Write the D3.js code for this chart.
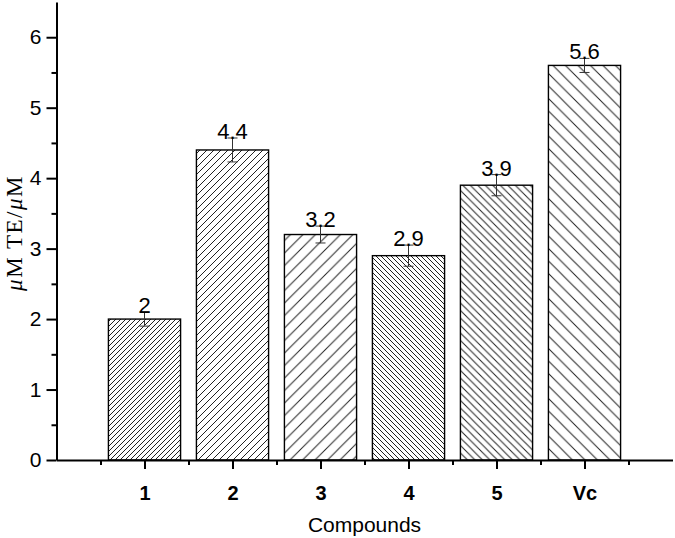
<!DOCTYPE html>
<html>
<head>
<meta charset="utf-8">
<style>
  body { margin: 0; background: #fff; }
  text { font-family: "Liberation Sans", Arial, sans-serif; fill: #000; }
</style>
</head>
<body>
<script src="https://cdn.jsdelivr.net/npm/d3@7"></script>
<script>
var categories = ["1", "2", "3", "4", "5", "Vc"];
var values = [2, 4.4, 3.2, 2.9, 3.9, 5.6];
var errors = [0.1, 0.17, 0.12, 0.15, 0.15, 0.1];
var yTicks = [0, 1, 2, 3, 4, 5, 6];

// hatch pattern per bar: direction and spacing
var hatchDir = ["/", "/", "/", "\\", "\\", "\\"];
var hatchGap = [5, 7, 12.5, 5, 7.5, 12.5];

var width = 675, height = 538;

var svg = d3.select("body").append("svg")
    .attr("width", width)
    .attr("height", height);

var x = d3.scaleLinear().domain([0, 7]).range([56.5, 672.5]);
var y = d3.scaleLinear().domain([0, 6.5]).range([460, 2]);
var barW = 0.82 * 88;

var defs = svg.append("defs");
hatchGap.forEach(function(g, i) {
    var p = defs.append("pattern")
        .attr("id", "hatch" + i)
        .attr("patternUnits", "userSpaceOnUse")
        .attr("width", g).attr("height", g);
    var d = hatchDir[i] === "/" ?
        "M0," + g + " L" + g + ",0 M" + (-g) + "," + g + " L" + g + "," + (-g) + " M0," + (2 * g) + " L" + (2 * g) + ",0" :
        "M0,0 L" + g + "," + g + " M" + (-g) + ",0 L" + g + "," + (2 * g) + " M0," + (-g) + " L" + (2 * g) + "," + g;
    p.append("path").attr("d", d)
        .attr("stroke", "#222").attr("stroke-width", 1).attr("fill", "none");
});

// bars
svg.selectAll(".bar")
    .data(values)
    .enter().append("rect")
    .attr("class", "bar")
    .attr("x", function(d, i) { return x(i + 1) - barW / 2; })
    .attr("y", function(d) { return y(d); })
    .attr("width", barW)
    .attr("height", function(d) { return y(0) - y(d); })
    .attr("fill", function(d, i) { return "url(#hatch" + i + ")"; })
    .attr("stroke", "#000")
    .attr("stroke-width", 1.4);

// error bars
var eb = svg.selectAll(".err").data(values).enter().append("g")
    .attr("stroke", "#333").attr("stroke-width", 1);
eb.append("line")
    .attr("x1", function(d, i) { return x(i + 1); })
    .attr("x2", function(d, i) { return x(i + 1); })
    .attr("y1", function(d, i) { return y(d + errors[i]); })
    .attr("y2", function(d, i) { return y(d - errors[i]); });
eb.append("line")
    .attr("x1", function(d, i) { return x(i + 1) - 5; })
    .attr("x2", function(d, i) { return x(i + 1) + 5; })
    .attr("y1", function(d, i) { return y(d + errors[i]); })
    .attr("y2", function(d, i) { return y(d + errors[i]); });
eb.append("line")
    .attr("x1", function(d, i) { return x(i + 1) - 5; })
    .attr("x2", function(d, i) { return x(i + 1) + 5; })
    .attr("y1", function(d, i) { return y(d - errors[i]); })
    .attr("y2", function(d, i) { return y(d - errors[i]); });

// value labels
svg.selectAll(".val").data(values).enter().append("text")
    .attr("x", function(d, i) { return x(i + 1); })
    .attr("y", function(d, i) { return y(d + errors[i]) + 1; })
    .attr("text-anchor", "middle")
    .style("font-size", "22px")
    .text(function(d) { return d; });

// y axis
var yAxis = d3.axisLeft(y).tickValues(yTicks).tickFormat(d3.format("d"))
    .tickSize(10).tickSizeOuter(0).tickPadding(5);
var gy = svg.append("g").attr("transform", "translate(" + x(0) + ",0)").call(yAxis);
gy.attr("font-size", null).attr("font-family", null);
gy.selectAll("text").style("font-size", "21px");
var yMinor = d3.axisLeft(y).tickValues([0.5, 1.5, 2.5, 3.5, 4.5, 5.5]).tickSize(5).tickFormat("");
var gym = svg.append("g").attr("transform", "translate(" + x(0) + ",0)").call(yMinor);
gym.select(".domain").remove();

// x axis
var xAxis = d3.axisBottom(x).tickValues([1, 2, 3, 4, 5, 6])
    .tickFormat(function(d) { return categories[d - 1]; })
    .tickSize(9).tickSizeOuter(0).tickPadding(17);
var gx = svg.append("g").attr("transform", "translate(0," + y(0) + ")").call(xAxis);
gx.attr("font-size", null).attr("font-family", null);
gx.selectAll("text").style("font-size", "20px").style("font-weight", "bold");
var xMinor = d3.axisBottom(x).tickValues([0.5, 1.5, 2.5, 3.5, 4.5, 5.5, 6.5]).tickSize(5).tickFormat("");
var gxm = svg.append("g").attr("transform", "translate(0," + y(0) + ")").call(xMinor);
gxm.select(".domain").remove();

svg.selectAll(".domain, .tick line").attr("stroke", "#000").attr("stroke-width", 2);

// axis titles
svg.append("text")
    .attr("x", x(3.5)).attr("y", 532)
    .attr("text-anchor", "middle")
    .style("font-size", "21px")
    .text("Compounds");

var yl = svg.append("text")
    .attr("transform", "translate(22,233) rotate(-90)")
    .attr("text-anchor", "middle")
    .style("font-family", "'Liberation Serif', 'Times New Roman', serif")
    .style("font-size", "23px")
    .style("letter-spacing", "1.5px");
yl.append("tspan").style("font-style", "italic").text("\u03bc");
yl.append("tspan").text("M TE/");
yl.append("tspan").style("font-style", "italic").text("\u03bc");
yl.append("tspan").text("M");
</script>
</body>
</html>
